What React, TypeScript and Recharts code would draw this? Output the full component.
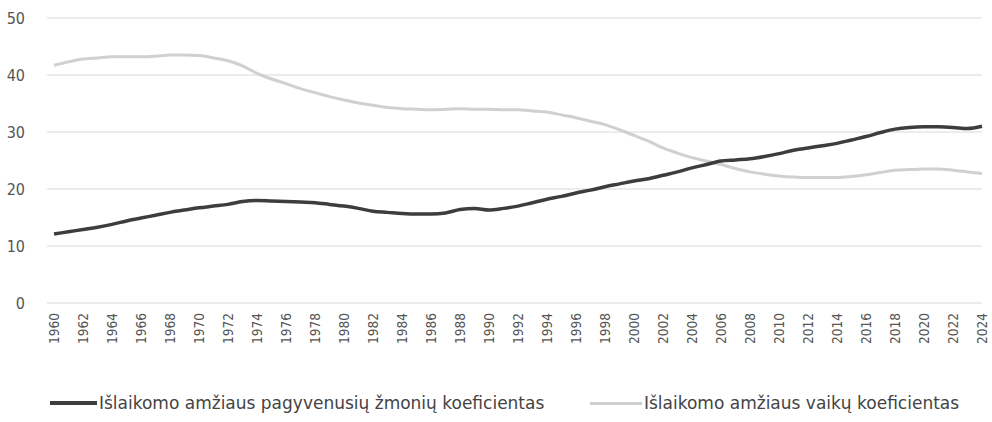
import React from "react";
import { LineChart, Line, XAxis, YAxis, CartesianGrid, Legend } from "recharts";

const years = [
  "1960","1961","1962","1963","1964","1965","1966","1967","1968","1969",
  "1970","1971","1972","1973","1974","1975","1976","1977","1978","1979",
  "1980","1981","1982","1983","1984","1985","1986","1987","1988","1989",
  "1990","1991","1992","1993","1994","1995","1996","1997","1998","1999",
  "2000","2001","2002","2003","2004","2005","2006","2007","2008","2009",
  "2010","2011","2012","2013","2014","2015","2016","2017","2018","2019",
  "2020","2021","2022","2023","2024",
];

const elderly = [
  12.1, 12.5, 12.9, 13.3, 13.8, 14.4, 14.9, 15.4, 15.9, 16.3,
  16.7, 17.0, 17.3, 17.8, 18.0, 17.9, 17.8, 17.7, 17.6, 17.3,
  17.0, 16.6, 16.1, 15.9, 15.7, 15.6, 15.6, 15.8, 16.4, 16.6,
  16.3, 16.6, 17.0, 17.6, 18.2, 18.7, 19.3, 19.8, 20.4, 20.9,
  21.4, 21.8, 22.4, 23.0, 23.7, 24.3, 24.9, 25.1, 25.3, 25.7,
  26.2, 26.8, 27.2, 27.6, 28.0, 28.6, 29.2, 29.9, 30.5, 30.8,
  30.9, 30.9, 30.8, 30.6, 31.0,
];

const children = [
  41.7, 42.3, 42.8, 43.0, 43.2, 43.2, 43.2, 43.3, 43.5, 43.5,
  43.4, 43.0, 42.5, 41.6, 40.3, 39.3, 38.5, 37.6, 36.9, 36.2,
  35.6, 35.1, 34.7, 34.3, 34.1, 34.0, 33.9, 34.0, 34.1, 34.0,
  34.0, 33.9, 33.9, 33.7, 33.5, 33.0, 32.5, 31.9, 31.3, 30.4,
  29.4, 28.4, 27.2, 26.3, 25.5, 24.9, 24.3, 23.6, 23.0, 22.6,
  22.3, 22.1, 22.0, 22.0, 22.0, 22.2, 22.5, 22.9, 23.3, 23.4,
  23.5, 23.5, 23.3, 23.0, 22.7,
];

const yTicks = [0, 10, 20, 30, 40, 50];

const elderlyLabel = "Išlaikomo amžiaus pagyvenusių žmonių koeficientas";
const childrenLabel = "Išlaikomo amžiaus vaikų koeficientas";

const data = years.map((year, i) => ({
  year,
  elderly: elderly[i],
  children: children[i],
}));

const FONT = '"DejaVu Sans Condensed", "DejaVu Sans", sans-serif';
const LEGEND_FONT = '"DejaVu Sans", sans-serif';
const DARK = "#3d3d3d";
const LIGHT = "#d0d0d0";

const XTick = (props: any) => {
  const { x, y, payload } = props;
  return (
    <text
      x={x}
      y={y}
      transform={`rotate(-90, ${x}, ${y})`}
      textAnchor="end"
      dominantBaseline="central"
      fill="#555"
      fontFamily={FONT}
      fontSize={13.5}
    >
      {payload.value}
    </text>
  );
};

const LegendContent = () => (
  <div style={{ position: "relative", height: 24, width: 992, fontFamily: LEGEND_FONT, fontSize: 17, color: "#444" }}>
    <div style={{ position: "absolute", left: 50, top: 0, height: 24, display: "flex", alignItems: "center", whiteSpace: "nowrap" }}>
      <span style={{ display: "inline-block", width: 47, height: 4, background: DARK, marginRight: 2 }} />
      <span>{elderlyLabel}</span>
    </div>
    <div style={{ position: "absolute", left: 590, top: 0, height: 24, display: "flex", alignItems: "center", whiteSpace: "nowrap" }}>
      <span style={{ display: "inline-block", width: 52, height: 3, background: LIGHT, marginRight: 2 }} />
      <span>{childrenLabel}</span>
    </div>
  </div>
);

export default function App() {
  return (
    <div style={{ position: "absolute", left: 0, top: 0, width: 992, height: 422, background: "#fff" }}>
      <LineChart
        width={992}
        height={422}
        data={data}
        margin={{ top: 18, right: 10, left: 0, bottom: 7 }}
      >
        <CartesianGrid vertical={false} stroke="#d9d9d9" strokeWidth={1} />
        <XAxis
          dataKey="year"
          interval={1}
          tick={<XTick />}
          tickLine={false}
          axisLine={false}
          tickSize={0}
          tickMargin={10}
          height={88}
          padding={{ left: 7, right: 0 }}
        />
        <YAxis
          domain={[0, 50]}
          ticks={yTicks}
          width={47}
          tickLine={false}
          axisLine={false}
          tickSize={0}
          tickMargin={22}
          tick={{ fill: "#555", fontFamily: FONT, fontSize: 16 }}
        />
        <Legend verticalAlign="bottom" content={<LegendContent />} />
        <Line
          type="monotone"
          dataKey="children"
          stroke={LIGHT}
          strokeWidth={3}
          dot={false}
          isAnimationActive={false}
        />
        <Line
          type="monotone"
          dataKey="elderly"
          stroke={DARK}
          strokeWidth={3.5}
          dot={false}
          isAnimationActive={false}
        />
      </LineChart>
    </div>
  );
}
